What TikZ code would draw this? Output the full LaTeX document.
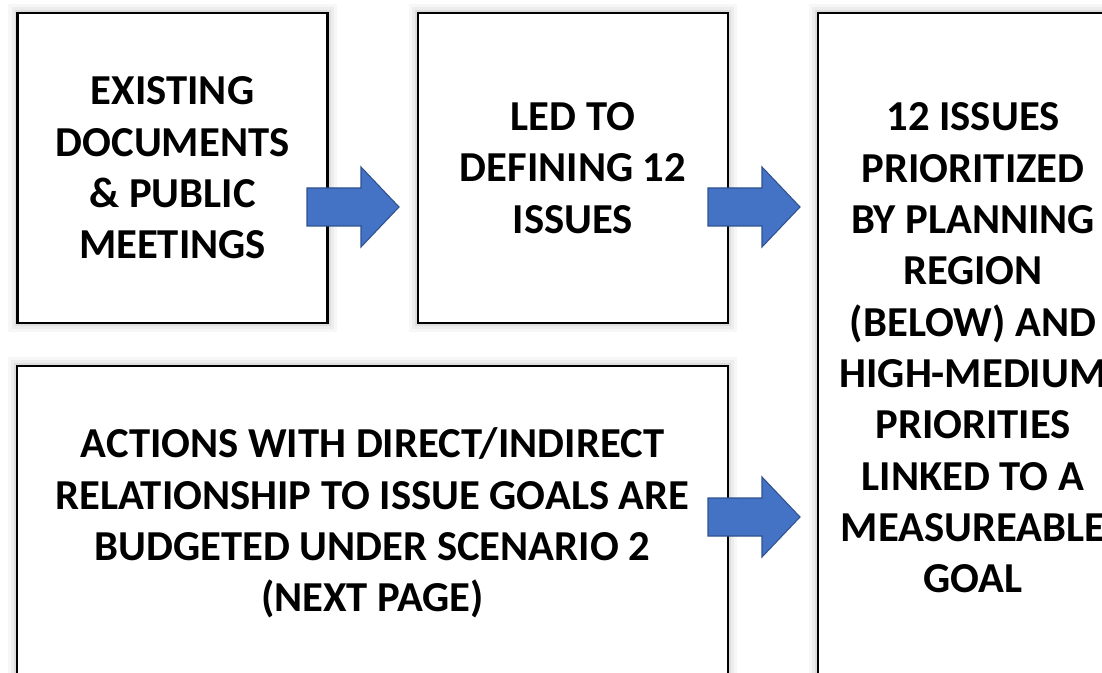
\documentclass[tikz,border=0pt]{standalone}
\usepackage{fontspec}
\setmainfont{Carlito}
\usetikzlibrary{calc}
\definecolor{arrowblue}{HTML}{4472C4}
\definecolor{arrowedge}{HTML}{2F528F}
\tikzset{
  flowbox/.style={draw=black, line width=1.6pt, fill=white, inner sep=0pt,
    preaction={draw=black!3, line width=14pt},
    preaction={draw=black!7, line width=9pt},
    preaction={draw=black!13, line width=4.5pt}},
  flowtext/.style={font=\bfseries\fontsize{32}{38.5}\selectfont, align=center, inner sep=0pt},
  blockarrow/.style={fill=arrowblue, draw=arrowedge, line width=0.8pt, line join=miter}
}
\def\blockarrow(#1){\draw[blockarrow] (#1) ++(0,-19) -- ++(54,0) -- ++(0,-21) -- ++(38,40) -- ++(-38,40) -- ++(0,-21) -- ++(-54,0) -- cycle;}

\begin{document}
\begin{tikzpicture}[x=0.75pt,y=-0.75pt]
  \useasboundingbox (0,0) rectangle (1102,673);
  \clip (0,0) rectangle (1102,673);
  \fill[white] (0,0) rectangle (1102,673);

  %%%%% BOXES %%%%%
  \node[flowbox, minimum width=232.5pt, minimum height=232.5pt] (b1) at (172.5,168) {};
  \node[flowbox, minimum width=232.5pt, minimum height=232.5pt] (b2) at (573,168) {};
  \node[flowbox, minimum width=533.25pt, minimum height=235.5pt] (b4) at (372.5,523) {};
  \node[flowbox, minimum width=232.5pt, minimum height=502.5pt] (b3) at (973,348) {};

  %%%%% TEXT %%%%%
  \node[flowtext] (t1) at (b1.center) {EXISTING\\DOCUMENTS\\\& PUBLIC\\MEETINGS};
  \node[flowtext] (t2) at (b2.center) {LED TO\\DEFINING 12\\ISSUES};
  \node[flowtext] (t3) at (b3.center) {12 ISSUES\\PRIORITIZED\\BY PLANNING\\REGION\\(BELOW) AND\\HIGH-MEDIUM\\PRIORITIES\\LINKED TO A\\MEASUREABLE\\GOAL};
  \node[flowtext] (t4) at (b4.center) {ACTIONS WITH DIRECT/INDIRECT\\RELATIONSHIP TO ISSUE GOALS ARE\\BUDGETED UNDER SCENARIO 2\\(NEXT PAGE)};

  %%%%% ARROWS %%%%%
  \blockarrow(307,207)
  \blockarrow(708,207)
  \blockarrow(708,517)
\end{tikzpicture}
\end{document}
